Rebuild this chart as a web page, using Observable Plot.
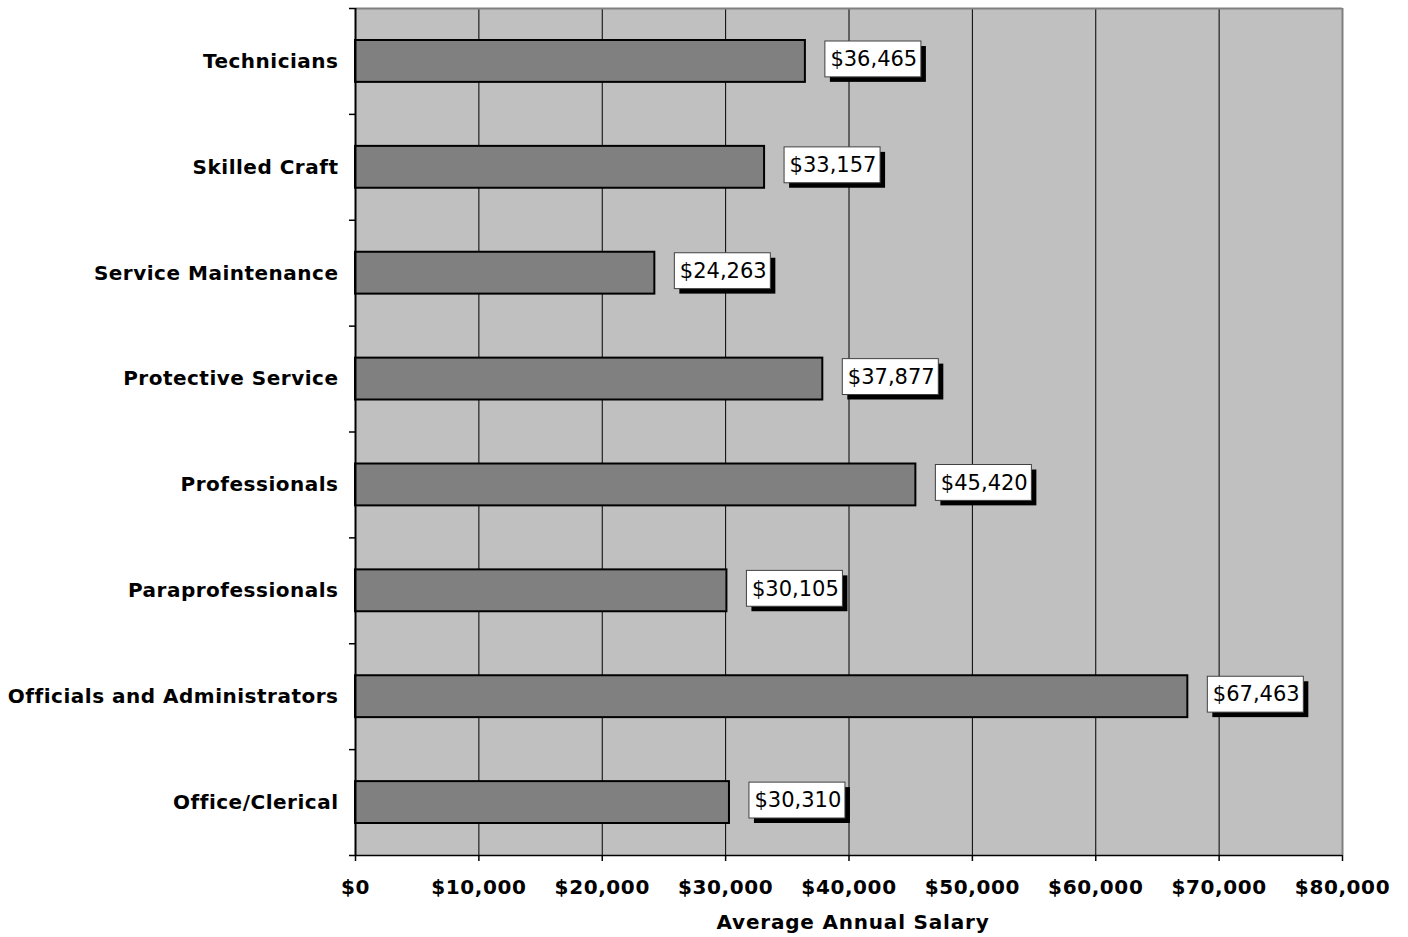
<!DOCTYPE html>
<html>
<head>
<meta charset="utf-8">
<script src="https://cdn.jsdelivr.net/npm/d3@7"></script>
<script src="https://cdn.jsdelivr.net/npm/@observablehq/plot@0.6"></script>
<style>
  html, body { margin: 0; padding: 0; background: #fff; }
  #chart { width: 1408px; height: 937px; }
  g[aria-label="y-axis tick label"] text { letter-spacing: 0.5px; }
  g[aria-label="x-axis tick label"] text { letter-spacing: 0.6px; }
  g.xtitle text { letter-spacing: 0.8px; }
</style>
</head>
<body>
<div id="chart"></div>
<script>
// Data (top to bottom)
const categories = [
  "Technicians",
  "Skilled Craft",
  "Service Maintenance",
  "Protective Service",
  "Professionals",
  "Paraprofessionals",
  "Officials and Administrators",
  "Office/Clerical"
];
const salaries = [36465, 33157, 24263, 37877, 45420, 30105, 67463, 30310];
const xTicks = [0, 10000, 20000, 30000, 40000, 50000, 60000, 70000, 80000];
const xTitle = "Average Annual Salary";

const data = categories.map((c, i) => ({cat: c, value: salaries[i]}));

const W = 1408, H = 937;
const mL = 355, mR = 66, mT = 8, mB = 82;
const step = (H - mT - mB) / categories.length;
const money = d => "$" + d3.format(",")(d);
const font = "'DejaVu Sans', Verdana, sans-serif";

const chart = Plot.plot({
  width: W,
  height: H,
  marginLeft: mL,
  marginRight: mR,
  marginTop: mT,
  marginBottom: mB,
  style: {fontFamily: font, background: "#fff", color: "#000"},
  x: {domain: [0, 80000], axis: null},
  y: {domain: categories, padding: 0, round: false, axis: null},
  marks: [
    Plot.frame({fill: "#C0C0C0", stroke: null}),
    // vertical gridlines
    Plot.ruleX(xTicks.filter(t => t > 0 && t < 80000), {stroke: "#000", strokeWidth: 1}),
    // right and top border
    Plot.ruleX([80000], {stroke: "#808080", strokeWidth: 2}),
    Plot.ruleY([categories[0]], {dy: -step / 2, stroke: "#808080", strokeWidth: 2}),
    // bars
    Plot.barX(data, {x: "value", y: "cat", fill: "#808080", stroke: "#000", strokeWidth: 2, insetTop: 32, insetBottom: 32}),
    // label shadows
    Plot.barX(data, {x1: "value", x2: "value", y: "cat", dx: 25, dy: 5, insetRight: -96, insetTop: 33, insetBottom: 37, fill: "#000"}),
    // label boxes
    Plot.barX(data, {x1: "value", x2: "value", y: "cat", dx: 20, insetRight: -96, insetTop: 33, insetBottom: 37, fill: "#fff", stroke: "#404040", strokeWidth: 1}),
    // label text
    Plot.text(data, {x: "value", y: "cat", text: d => money(d.value), dx: 25, dy: -2, textAnchor: "start", fontSize: 21, fill: "#000"}),
    // left axis line
    Plot.ruleX([0], {stroke: "#000", strokeWidth: 2}),
    // bottom axis line
    Plot.ruleY([categories[categories.length - 1]], {dy: step / 2, x1: 0, x2: 80000, insetLeft: -6, stroke: "#000", strokeWidth: 1.5}),
    // y boundary ticks
    Plot.ruleY(categories, {dy: -step / 2, x1: 0, x2: 0, insetLeft: -6, stroke: "#000", strokeWidth: 1.5}),
    // y axis labels
    Plot.axisY({tickSize: 0, tickPadding: 17, fontSize: 20, fontWeight: "bold", fill: "#000", label: null}),
    // x axis
    Plot.axisX({ticks: xTicks, tickSize: 6, tickPadding: 18, tickFormat: money, fontSize: 20, fontWeight: "bold", label: null, stroke: "#000", strokeWidth: 1.5, fill: "#000"}),
    // x title
    Plot.text([xTitle], {frameAnchor: "bottom", dx: 4, dy: 67, text: d => d, fontSize: 20, fontWeight: "bold", fill: "#000", lineAnchor: "middle", className: "xtitle"})
  ]
});
document.getElementById("chart").appendChild(chart);
</script>
</body>
</html>
